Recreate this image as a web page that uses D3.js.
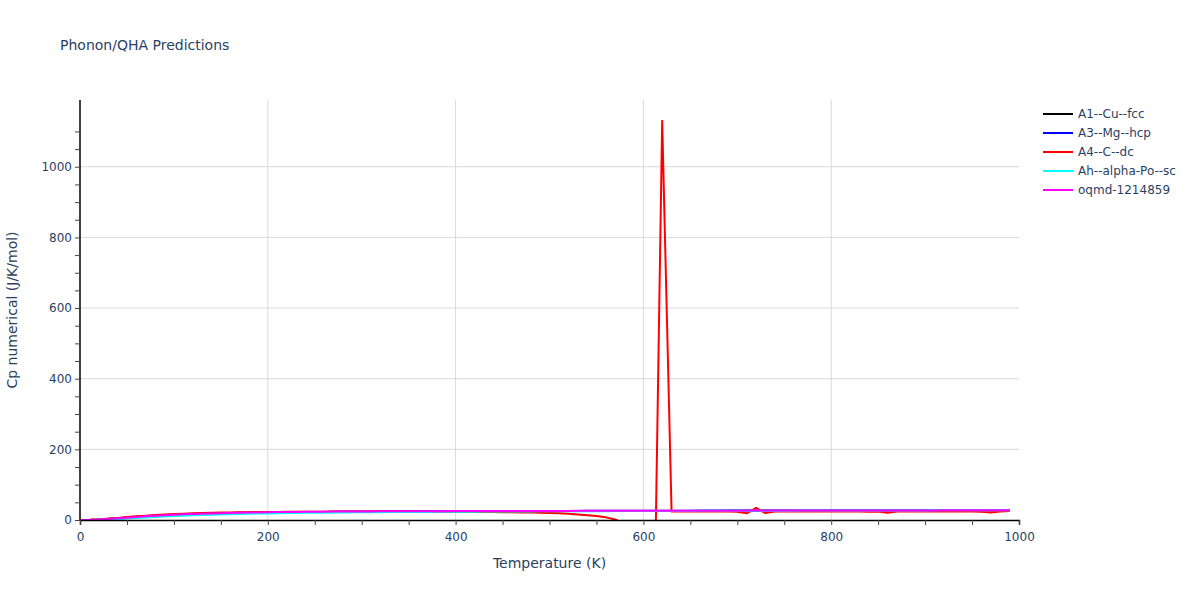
<!DOCTYPE html>
<html>
<head>
<meta charset="utf-8">
<script src="https://cdn.jsdelivr.net/npm/d3@7"></script>
<style>
  body { margin: 0; background: #fff; }
  svg text { font-family: "DejaVu Sans", Verdana, sans-serif; fill: #2a3f5f; }
</style>
</head>
<body>
<svg id="chart" width="1200" height="600"></svg>
<script>
// temperatures (K), shared by every series
var temps = d3.range(0, 1000, 10);

// Cp values, one per temperature
var cuFcc = [0, 0.3, 1.5, 3.3, 5.3, 7.3, 9.2, 10.9, 12.4, 13.8,
    15.0, 16.1, 17.0, 17.8, 18.5, 19.1, 19.7, 20.2, 20.6, 21.0,
    21.4, 21.7, 22.0, 22.3, 22.5, 22.7, 22.9, 23.1, 23.3, 23.4,
    23.6, 23.7, 23.8, 23.9, 24.0, 24.1, 24.2, 24.3, 24.4, 24.4,
    24.5, 24.6, 24.6, 24.7, 24.8, 24.8, 24.9, 24.9, 25.0, 25.0,
    25.1, 25.1, 25.2, 25.2, 25.3, 25.3, 25.4, 25.4, 25.4, 25.5,
    25.5, 25.6, 25.6, 25.6, 25.7, 25.7, 25.8, 25.8, 25.8, 25.9,
    25.9, 25.9, 26.0, 26.0, 26.0, 26.1, 26.1, 26.1, 26.2, 26.2,
    26.2, 26.3, 26.3, 26.3, 26.4, 26.4, 26.4, 26.5, 26.5, 26.5,
    26.6, 26.6, 26.6, 26.7, 26.7, 26.7, 26.8, 26.8, 26.8, 26.9];

var mgHcp = [0, 0.2, 1.0, 2.4, 4.1, 5.9, 7.7, 9.4, 11.0, 12.4,
    13.7, 14.9, 15.9, 16.8, 17.6, 18.3, 19.0, 19.6, 20.1, 20.6,
    21.0, 21.4, 21.7, 22.0, 22.3, 22.6, 22.8, 23.0, 23.2, 23.4,
    23.6, 23.7, 23.9, 24.0, 24.1, 24.3, 24.4, 24.5, 24.6, 24.7,
    24.8, 24.9, 25.0, 25.1, 25.2, 25.2, 25.3, 25.4, 25.5, 25.5,
    25.6, 25.7, 25.7, 25.8, 25.9, 25.9, 26.0, 26.1, 26.1, 26.2,
    26.2, 26.3, 26.3, 26.4, 26.5, 26.5, 26.6, 26.6, 26.7, 26.7,
    26.8, 26.8, 26.9, 26.9, 27.0, 27.0, 27.1, 27.1, 27.2, 27.2,
    27.3, 27.3, 27.4, 27.4, 27.5, 27.5, 27.6, 27.6, 27.7, 27.7,
    27.8, 27.8, 27.9, 27.9, 28.0, 28.0, 28.1, 28.1, 28.2, 28.2];

var cDc = [0, 0.4, 1.8, 3.8, 6.0, 8.2, 10.3, 12.2, 14.0, 15.5,
    16.8, 17.9, 18.8, 19.6, 20.3, 20.9, 21.4, 21.8, 22.2, 22.5,
    22.8, 23.0, 23.2, 23.4, 23.5, 23.6, 23.7, 23.8, 23.8, 23.9,
    23.9, 23.9, 23.9, 23.9, 23.8, 23.8, 23.7, 23.6, 23.5, 23.4,
    23.3, 23.1, 22.9, 22.7, 22.4, 22.1, 21.8, 21.4, 21.0, 20.5,
    20.0, 19.2, 17.8, 15.8, 13.6, 11.0, 7.5, 1.5, -12, -35,
    -90, -560, 1130, 24.0, 24.2, 23.8, 24.0, 24.1, 23.9, 24.0,
    23.5, 19.0, 34.0, 19.5, 23.8, 24.0, 24.2, 23.9, 24.1, 24.0,
    24.2, 24.1, 24.0, 23.8, 23.5, 23.9, 20.5, 24.0, 24.2, 24.1,
    24.0, 24.2, 24.1, 24.0, 24.2, 24.1, 23.5, 21.5, 23.8, 25.5];

var poSc = [0, 0.1, 0.6, 1.6, 2.9, 4.3, 5.8, 7.3, 8.7, 10.0,
    11.2, 12.3, 13.3, 14.2, 15.0, 15.8, 16.5, 17.1, 17.7, 18.2,
    18.7, 19.1, 19.5, 19.9, 20.2, 20.5, 20.8, 21.1, 21.3, 21.6,
    21.8, 22.0, 22.2, 22.4, 22.6, 22.7, 22.9, 23.0, 23.2, 23.3,
    23.5, 23.6, 23.7, 23.8, 24.0, 24.1, 24.2, 24.3, 24.4, 24.5,
    24.6, 24.7, 24.8, 24.9, 25.0, 25.1, 25.1, 25.2, 25.3, 25.4,
    25.5, 25.5, 25.6, 25.7, 25.8, 25.8, 25.9, 26.0, 26.0, 26.1,
    26.2, 26.2, 26.3, 26.3, 26.4, 26.5, 26.5, 26.6, 26.6, 26.7,
    26.7, 26.8, 26.8, 26.9, 26.9, 27.0, 27.0, 27.1, 27.1, 27.2,
    27.2, 27.3, 27.3, 27.4, 27.4, 27.5, 27.5, 27.5, 27.6, 27.6];

var oqmd = [0, 0.2, 1.2, 2.8, 4.7, 6.7, 8.6, 10.4, 12.0, 13.5,
    14.8, 16.0, 17.0, 17.9, 18.7, 19.4, 20.0, 20.6, 21.1, 21.5,
    21.9, 22.3, 22.6, 22.9, 23.2, 23.4, 23.6, 23.8, 24.0, 24.2,
    24.3, 24.4, 24.5, 24.6, 24.7, 24.8, 24.9, 25.0, 25.1, 25.1,
    25.2, 25.3, 25.3, 25.4, 25.4, 25.5, 25.5, 25.6, 25.6, 25.7,
    25.7, 25.8, 25.8, 25.9, 25.9, 26.0, 26.0, 26.0, 26.1, 26.1,
    26.2, 26.2, 26.2, 26.3, 26.3, 26.4, 26.4, 26.4, 26.5, 26.5,
    26.5, 26.6, 26.6, 26.6, 26.7, 26.7, 26.7, 26.8, 26.8, 26.8,
    26.9, 26.9, 26.9, 27.0, 27.0, 27.0, 27.1, 27.1, 27.1, 27.2,
    27.2, 27.2, 27.3, 27.3, 27.3, 27.4, 27.4, 27.4, 27.5, 27.5];

var seriesNames = ["A1--Cu--fcc", "A3--Mg--hcp", "A4--C--dc", "Ah--alpha-Po--sc", "oqmd-1214859"];
var seriesValues = [cuFcc, mgHcp, cDc, poSc, oqmd];
var seriesColors = ["#000000", "#0000ff", "#ff0000", "#00ffff", "#ff00ff"];

var xTicks = [0, 200, 400, 600, 800, 1000];
var yTicks = [0, 200, 400, 600, 800, 1000];

var margin = {left: 80, right: 181, top: 100, bottom: 80};
var width = 1200, height = 600;

var svg = d3.select('#chart');

var x = d3.scaleLinear()
    .domain([0, 1000])
    .range([margin.left, width - margin.right]);

var y = d3.scaleLinear()
    .domain([0, 1189])
    .range([height - margin.bottom, margin.top]);

// grid lines
svg.append('g')
    .selectAll('line')
    .data(xTicks.slice(1, -1))
    .enter()
    .append('line')
    .attr('x1', d => x(d)).attr('x2', d => x(d))
    .attr('y1', y.range()[0]).attr('y2', y.range()[1])
    .attr('stroke', '#d9d9d9').attr('stroke-width', 1);

svg.append('g')
    .selectAll('line')
    .data(yTicks.slice(1))
    .enter()
    .append('line')
    .attr('x1', x.range()[0]).attr('x2', x.range()[1])
    .attr('y1', d => y(d)).attr('y2', d => y(d))
    .attr('stroke', '#d9d9d9').attr('stroke-width', 1);

// lines, clipped to the plot area
svg.append('clipPath')
    .attr('id', 'plotClip')
    .append('rect')
    .attr('x', x.range()[0]).attr('y', y.range()[1])
    .attr('width', x.range()[1] - x.range()[0])
    .attr('height', y.range()[0] - y.range()[1]);

var line = d3.line()
    .x((d, i) => x(temps[i]))
    .y(d => y(d));

svg.append('g')
    .attr('clip-path', 'url(#plotClip)')
    .selectAll('path')
    .data(seriesValues)
    .enter()
    .append('path')
    .attr('d', d => line(d))
    .attr('fill', 'none')
    .attr('stroke', (d, i) => seriesColors[i])
    .attr('stroke-width', 2)
    .attr('stroke-linejoin', 'round');

// axes
var xAxis = d3.axisBottom(x)
    .tickValues(d3.range(0, 1001, 50))
    .tickSize(5)
    .tickFormat(d => xTicks.indexOf(d) >= 0 ? d : '');

var gx = svg.append('g')
    .attr('transform', 'translate(0,' + y(0) + ')')
    .call(xAxis);
gx.select('.domain').attr('stroke', '#000').attr('stroke-width', 1.5);
gx.selectAll('.tick line').attr('stroke', '#444');
gx.selectAll('.tick text')
    .style('font-size', '12px')
    .attr('fill', '#2a3f5f')
    .attr('dy', '1.05em');

var yAxis = d3.axisLeft(y)
    .tickValues(d3.range(0, 1101, 50))
    .tickSize(5)
    .tickFormat(d => yTicks.indexOf(d) >= 0 ? d : '');

var gy = svg.append('g')
    .attr('transform', 'translate(' + x(0) + ',0)')
    .call(yAxis);
gy.select('.domain').attr('stroke', '#000').attr('stroke-width', 1.5)
    .attr('d', 'M0,' + y.range()[0] + 'V' + y.range()[1]);
gy.selectAll('.tick line').attr('stroke', '#444');
gy.selectAll('.tick text')
    .style('font-size', '12px')
    .attr('fill', '#2a3f5f')
    .attr('x', -8);

// titles
svg.append('text')
    .attr('x', 60).attr('y', 50)
    .style('font-size', '14px')
    .text('Phonon/QHA Predictions');

svg.append('text')
    .attr('x', (x.range()[0] + x.range()[1]) / 2)
    .attr('y', 568)
    .attr('text-anchor', 'middle')
    .style('font-size', '14px')
    .text('Temperature (K)');

svg.append('text')
    .attr('transform', 'translate(17,' + ((y.range()[0] + y.range()[1]) / 2) + ') rotate(-90)')
    .attr('text-anchor', 'middle')
    .style('font-size', '14px')
    .text('Cp numerical (J/K/mol)');

// legend
var legend = svg.append('g')
    .selectAll('g')
    .data(seriesNames)
    .enter()
    .append('g')
    .attr('transform', (d, i) => 'translate(1043,' + (114 + i * 19) + ')');

legend.append('line')
    .attr('x1', 0).attr('x2', 30)
    .attr('stroke', (d, i) => seriesColors[i])
    .attr('stroke-width', 2);

legend.append('text')
    .attr('x', 35).attr('dy', '0.35em')
    .style('font-size', '12px')
    .text(d => d);
</script>
</body>
</html>
